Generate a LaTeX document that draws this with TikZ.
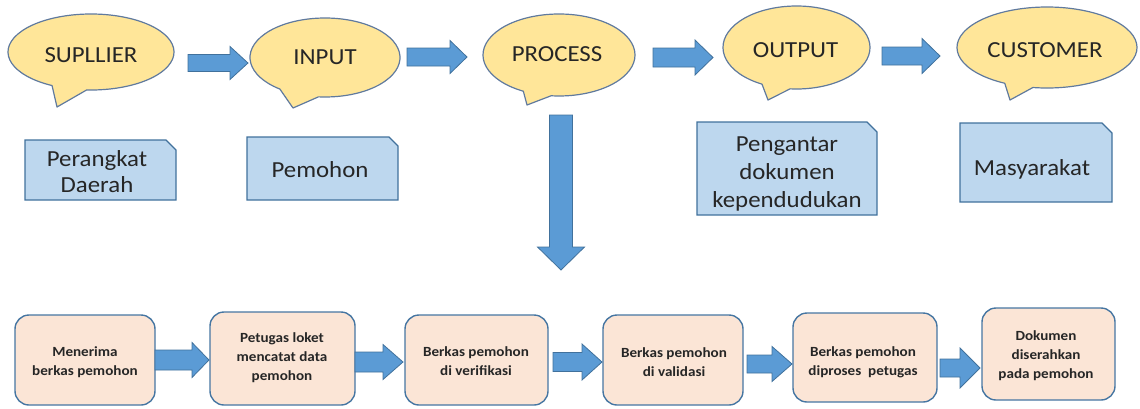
\documentclass[tikz,border=0pt]{standalone}
\usepackage{fontspec}
\setmainfont{Carlito}[FakeStretch=1.08]
\usetikzlibrary{calc}
\definecolor{bubfill}{RGB}{255,230,153}
\definecolor{bubline}{RGB}{96,122,158}
\definecolor{notefill}{RGB}{189,215,238}
\definecolor{noteline}{RGB}{65,113,156}
\definecolor{arrfill}{RGB}{91,155,213}
\definecolor{arrline}{RGB}{65,113,156}
\definecolor{stepfill}{RGB}{251,229,214}
\definecolor{stepline}{RGB}{70,118,162}
\definecolor{txt}{RGB}{38,38,38}
\tikzset{
  bubble/.style={fill=bubfill, draw=bubline, line width=1.2pt, line join=round},
  bubtext/.style={font=\fontsize{23}{27}\selectfont, text=txt, inner sep=0pt},
  notebox/.style={fill=notefill, draw=noteline, line width=1.3pt},
  notetext/.style={font=\fontsize{23}{26}\selectfont, text=txt, align=center, inner sep=0pt},
  barrow/.style={fill=arrfill, draw=arrline, line width=0.8pt, line join=miter},
  stepbox/.style={fill=stepfill, draw=stepline, line width=1.4pt, rounded corners=14pt, inner sep=0pt},
  steptext/.style={font=\bfseries\fontsize{14}{19}\selectfont, text=txt, align=center, inner sep=0pt},
}
% speech bubble: name, cx, cy, rx, ry, tail angle 1, tail angle 2, tip x, tip y
\newcommand\speechbubble[9]{%
  \draw[bubble] ($(#2,#3)+(#6:#4 and #5)$) arc[start angle=#6, end angle=#7+360, x radius=#4, y radius=#5] -- (#8,#9) -- cycle;
  \coordinate (#1) at (#2,#3);}
% horizontal block arrow: x1, x2, y, shaft half width, head half width, head length
\newcommand\harrow[6]{%
  \draw[barrow] (#1,#3-#4) -- (#2-#6,#3-#4) -- (#2-#6,#3-#5) -- (#2,#3) -- (#2-#6,#3+#5) -- (#2-#6,#3+#4) -- (#1,#3+#4) -- cycle;}
% vertical block arrow: x, y1, y2, shaft half width, head half width, head length
\newcommand\varrow[6]{%
  \draw[barrow] (#1-#4,#2) -- (#1-#4,#3-#6) -- (#1-#5,#3-#6) -- (#1,#3) -- (#1+#5,#3-#6) -- (#1+#4,#3-#6) -- (#1+#4,#2) -- cycle;}
% note box with snipped top-right corner: x1, y1, x2, y2, snip
\newcommand\snipbox[5]{%
  \draw[notebox] (#1,#2) -- (#3-#5,#2) -- (#3,#2+#5) -- (#3,#4) -- (#1,#4) -- cycle;}
\begin{document}
\begin{tikzpicture}[x=1pt,y=-1pt]
\useasboundingbox (0,0) rectangle (1140,408);

% bubbles
\speechbubble{bsup}{91}{52}{83}{38}{118}{93}{57}{107}
\speechbubble{binp}{325}{57.5}{75}{39.5}{127}{95}{293}{108}
\speechbubble{bproc}{559}{55}{76}{41}{118}{96}{527}{105}
\speechbubble{bout}{796.5}{47.5}{73.5}{41.5}{118}{95}{768}{100}
\speechbubble{bcust}{1047}{47.5}{90}{40.5}{118}{99}{1010}{100}
\node[bubtext] (sup) at (91,55) {SUPLLIER};
\node[bubtext] (inp) at (325,57) {INPUT};
\node[bubtext] (proc) at (557,54) {PROCESS};
\node[bubtext] (outp) at (795.5,50) {OUTPUT};
\node[bubtext] (cust) at (1045,50) {CUSTOMER};

% top arrows
\harrow{188}{248}{63}{8.5}{16.5}{18}
\harrow{407}{467}{57}{9}{16.5}{17}
\harrow{653}{713}{57.5}{9.5}{17.5}{18}
\harrow{882}{940}{56}{9}{17.5}{18}
\varrow{561}{115}{270}{11.5}{23.5}{23}

% notes
\snipbox{25}{140}{176}{200}{10}
\snipbox{247}{137}{398}{200}{9}
\snipbox{697}{122}{877}{215}{10}
\snipbox{960}{123}{1112}{202}{10}
\node[notetext] (n1) at (97,172) {Perangkat\\Daerah};
\node[notetext] (n2) at (320,170) {Pemohon};
\node[notetext, font=\fontsize{23}{28}\selectfont] (n3) at (787,174) {Pengantar\\dokumen\\kependudukan};
\node[notetext] (n4) at (1032,169) {Masyarakat};

% process steps
\node[stepbox, minimum width=140pt, minimum height=90pt] (s1) at (85,360) {};
\node[stepbox, minimum width=145pt, minimum height=93pt] (s2) at (282.5,358.5) {};
\node[stepbox, minimum width=143pt, minimum height=90pt] (s3) at (476.5,360) {};
\node[stepbox, minimum width=140pt, minimum height=90pt] (s4) at (673,360) {};
\node[stepbox, minimum width=144pt, minimum height=89pt] (s5) at (865,357.5) {};
\node[stepbox, minimum width=133pt, minimum height=92pt] (s6) at (1048.5,354) {};
\node[steptext] (t1) at (85,362) {Menerima\\berkas pemohon};
\node[steptext] (t2) at (282,358) {Petugas loket\\mencatat data\\pemohon};
\node[steptext] (t3) at (476,361) {Berkas pemohon\\di verifikasi};
\node[steptext] (t4) at (674,362) {Berkas pemohon\\di validasi};
\node[steptext] (t5) at (863,362) {Berkas pemohon\\diproses\ \ petugas};
\node[steptext] (t6) at (1046,356) {Dokumen\\diserahkan\\pada pemohon};

% bottom arrows
\harrow{155}{209}{360}{10}{17.5}{17}
\harrow{355}{403}{362}{10}{17.5}{20}
\harrow{553}{602}{362}{9.5}{18}{20}
\harrow{747}{792}{364}{9}{17.5}{20}
\harrow{940}{980}{368}{9}{20}{20}
\end{tikzpicture}
\end{document}
